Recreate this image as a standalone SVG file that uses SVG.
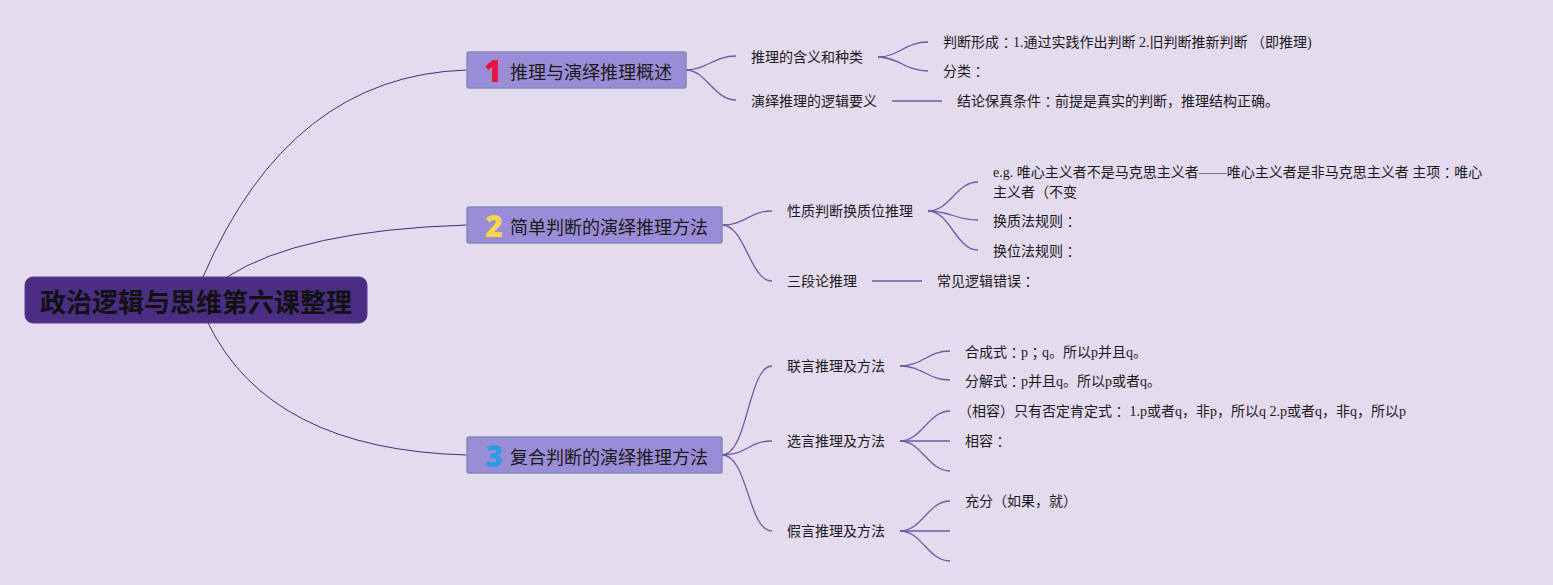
<svg xmlns="http://www.w3.org/2000/svg" width="1553" height="585" viewBox="0 0 1553 585">
<style>
.bg{fill:#e4dbef}
.root{fill:#4b2e83;stroke:#5b4196;stroke-width:1}
.rootT{font-family:"Noto Sans CJK SC",sans-serif;font-size:26px;font-weight:700;fill:#111}
.br{fill:#9b8cd7;stroke:#7e8db6;stroke-width:1.5}
.brT{font-family:"Noto Sans CJK SC",sans-serif;font-size:18px;fill:#1a1a1a}
.num{font-family:"Noto Sans","DejaVu Sans",sans-serif;font-size:30px;font-weight:900}
.t{font-family:"Liberation Serif","Noto Sans CJK SC",serif;font-size:14px;fill:#1a1a1a}
.co{font-family:"Noto Sans CJK JP",sans-serif}
.c0{fill:none;stroke:#3b3370;stroke-width:1}
.c1{fill:none;stroke:#6b5ca6;stroke-width:1.3}
text{dominant-baseline:central}
</style>
<rect class="bg" x="0" y="0" width="1553" height="585"/>
<g id="connectors">
<path class="c0" d="M203,277 Q290,75 467,70"/>
<path class="c0" d="M227,277 Q300,230 467,225"/>
<path class="c0" d="M208,323 Q270,450 467,455"/>
<path class="c1" d="M686,70 C706,70 714,56 736,56"/>
<path class="c1" d="M686,70 C706,70 714,100 736,100"/>
<path class="c1" d="M878,57 C898,57 906,42 928,42"/>
<path class="c1" d="M878,57 C898,57 906,71 928,71"/>
<path class="c1" d="M892,101 L942,101"/>
<path class="c1" d="M722,225 C745,225 750,211 772,211"/>
<path class="c1" d="M722,225 C745,225 750,281 772,281"/>
<path class="c1" d="M928,211 C950,211 956,182 978,182"/>
<path class="c1" d="M928,211 C950,211 956,220 978,220"/>
<path class="c1" d="M928,211 C950,211 956,250 978,250"/>
<path class="c1" d="M872,281 L922,281"/>
<path class="c1" d="M722,455 C748,455 748,366 772,366"/>
<path class="c1" d="M722,455 C748,455 748,441 772,441"/>
<path class="c1" d="M722,455 C748,455 748,531 772,531"/>
<path class="c1" d="M900,366 C922,366 928,351 950,351"/>
<path class="c1" d="M900,366 C922,366 928,380 950,380"/>
<path class="c1" d="M900,441 C922,441 928,411 950,411"/>
<path class="c1" d="M900,441 L950,441"/>
<path class="c1" d="M900,441 C922,441 928,471 950,471"/>
<path class="c1" d="M900,531 C922,531 928,501 950,501"/>
<path class="c1" d="M900,531 L950,531"/>
<path class="c1" d="M900,531 C922,531 928,561 950,561"/>
</g>
<g id="root">
<rect class="root" x="25" y="277" width="342" height="46" rx="8"/>
<text class="rootT" x="196" y="300" text-anchor="middle">政治逻辑与思维第六课整理</text>
</g>
<g id="b1">
<rect class="br" x="467" y="52" width="219" height="36" rx="2"/>
<text class="num" x="493" y="70" text-anchor="middle" fill="#e3173e">1</text>
<text class="brT" x="510" y="71">推理与演绎推理概述</text>
</g>
<g id="b2">
<rect class="br" x="467" y="207" width="255" height="36" rx="2"/>
<text class="num" x="494" y="225" text-anchor="middle" fill="#f4d84a">2</text>
<text class="brT" x="510" y="226">简单判断的演绎推理方法</text>
</g>
<g id="b3">
<rect class="br" x="467" y="437" width="255" height="36" rx="2"/>
<text class="num" x="494" y="455" text-anchor="middle" fill="#2b9de0">3</text>
<text class="brT" x="510" y="456">复合判断的演绎推理方法</text>
</g>
<g id="n11"><text class="t" x="751" y="57">推理的含义和种类</text></g>
<g id="n12"><text class="t" x="751" y="101">演绎推理的逻辑要义</text></g>
<g id="n111"><text class="t" x="943" y="42">判断形成<tspan class="co">：</tspan>1.通过实践作出判断 2.旧判断推新判断 （即推理)</text></g>
<g id="n112"><text class="t" x="943" y="71">分类<tspan class="co">：</tspan></text></g>
<g id="n121"><text class="t" x="957" y="101">结论保真条件<tspan class="co">：</tspan>前提是真实的判断，推理结构正确。</text></g>
<g id="n21"><text class="t" x="787" y="211">性质判断换质位推理</text></g>
<g id="n22"><text class="t" x="787" y="281">三段论推理</text></g>
<g id="n221"><text class="t" x="937" y="281">常见逻辑错误<tspan class="co">：</tspan></text></g>
<g id="n211"><text class="t" x="993" y="172">e.g. 唯心主义者不是马克思主义者——唯心主义者是非马克思主义者 主项<tspan class="co">：</tspan>唯心</text><text class="t" x="993" y="192">主义者（不变</text></g>
<g id="n212"><text class="t" x="993" y="221">换质法规则<tspan class="co">：</tspan></text></g>
<g id="n213"><text class="t" x="993" y="251">换位法规则<tspan class="co">：</tspan></text></g>
<g id="n31"><text class="t" x="787" y="366">联言推理及方法</text></g>
<g id="n32"><text class="t" x="787" y="441">选言推理及方法</text></g>
<g id="n33"><text class="t" x="787" y="531">假言推理及方法</text></g>
<g id="n311"><text class="t" x="965" y="352">合成式<tspan class="co">：</tspan>p<tspan class="co">；</tspan>q。所以p并且q。</text></g>
<g id="n312"><text class="t" x="965" y="381">分解式<tspan class="co">：</tspan>p并且q。所以p或者q。</text></g>
<g id="n321"><text class="t" x="958" y="411">（相容）只有否定肯定式<tspan class="co">：</tspan> 1.p或者q，非p，所以q 2.p或者q，非q，所以p</text></g>
<g id="n322"><text class="t" x="965" y="441">相容<tspan class="co">：</tspan></text></g>
<g id="n331"><text class="t" x="965" y="501">充分（如果，就）</text></g>
</svg>
